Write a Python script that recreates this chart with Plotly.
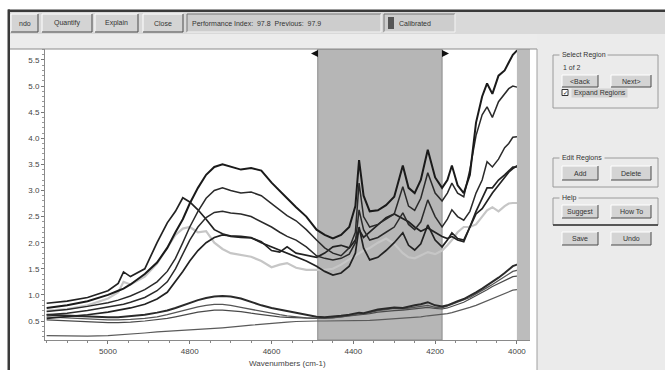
import plotly.graph_objects as go

# ---------------- data ----------------
wavenumbers = [5150, 5100, 5050, 5000, 4975, 4962, 4945, 4910, 4880, 4855, 4835, 4817, 4800, 4780,
               4760, 4740, 4720, 4700, 4675, 4650, 4625, 4600, 4580, 4562, 4540, 4515, 4490, 4470,
               4450, 4430, 4410, 4395, 4386, 4375, 4360, 4340, 4320, 4300, 4279, 4265, 4250, 4235,
               4218, 4200, 4183, 4170, 4159, 4145, 4130, 4115, 4100, 4085, 4073, 4060, 4045, 4030,
               4020, 4010, 4000, 3985, 3970]

spec_p1 = [0.75, 0.8, 0.88, 1.0, 1.08, 1.12, 1.2, 1.4, 1.62, 1.9, 2.2, 2.45, 2.75, 3.05,
           3.3, 3.45, 3.5, 3.45, 3.4, 3.43, 3.38, 3.15, 3.0, 2.85, 2.68, 2.5, 2.25, 2.15,
           2.08, 2.15, 2.3, 2.7, 3.58, 2.9, 2.6, 2.62, 2.72, 2.88, 3.48, 3.05, 2.95, 3.2,
           3.78, 3.25, 3.05, 3.2, 3.48, 3.1, 2.95, 3.3, 4.3, 4.8, 5.05, 4.85, 5.2, 5.3,
           5.45, 5.6, 5.68, 5.7, 5.7]
spec_p2 = [0.68, 0.72, 0.78, 0.85, 0.9, 0.93, 0.98, 1.1, 1.25, 1.45, 1.7, 2.0, 2.3, 2.6,
           2.85, 3.0, 3.05, 3.0, 2.95, 2.97, 2.9, 2.75, 2.62, 2.52, 2.42, 2.25, 2.05, 1.9,
           1.8, 1.75, 1.9, 2.2, 3.14, 2.5, 2.3, 2.35, 2.45, 2.55, 3.07, 2.7, 2.62, 2.85,
           3.34, 2.95, 2.8, 2.95, 3.14, 2.95, 2.88, 3.4, 4.05, 4.45, 4.6, 4.4, 4.7, 4.85,
           4.95, 5.0, 4.98, 4.98, 4.98]
spec_p3 = [0.62, 0.65, 0.7, 0.76, 0.8, 0.82, 0.86, 0.95, 1.08, 1.25, 1.5, 1.78, 2.05, 2.3,
           2.48, 2.58, 2.6, 2.57, 2.55, 2.5, 2.4, 2.3, 2.2, 2.12, 2.05, 1.92, 1.75, 1.7,
           1.67, 1.7, 1.78, 2.0, 2.63, 2.25, 2.05, 2.1, 2.2, 2.3, 2.57, 2.35, 2.25, 2.4,
           2.82, 2.5, 2.3, 2.45, 2.63, 2.5, 2.43, 2.6, 2.95, 3.2, 3.55, 3.45, 3.6, 3.82,
           3.9, 4.02, 4.03, 4.03, 4.03]
spec_p4 = [0.55, 0.58, 0.62, 0.67, 0.7, 0.72, 0.75, 0.82, 0.92, 1.05, 1.25, 1.45, 1.65, 1.85,
           2.0, 2.1, 2.15, 2.13, 2.12, 2.1, 2.0, 1.92, 1.85, 1.8, 1.73, 1.65, 1.55, 1.45,
           1.38, 1.42, 1.55, 1.8, 2.3, 1.9, 1.67, 1.72, 1.85, 2.0, 2.19, 1.95, 1.86, 1.98,
           2.34, 2.05, 1.92, 2.05, 2.19, 2.08, 2.05, 2.3, 2.6, 2.85, 3.05, 3.05, 3.2, 3.3,
           3.38, 3.45, 3.45, 3.45, 3.45]
spec_b = [0.84, 0.88, 0.95, 1.08, 1.22, 1.44, 1.35, 1.5, 2.0, 2.38, 2.6, 2.86, 2.78, 2.63,
          2.45, 2.25, 2.17, 2.12, 2.1, 2.09, 2.02, 1.85, 1.82, 1.92, 1.8, 1.76, 1.72, 1.8,
          1.92, 1.95, 1.9, 2.05, 2.25, 2.1, 2.2, 2.35, 2.48, 2.55, 2.45, 2.4, 2.3, 2.22,
          2.28, 2.2, 2.12, 2.08, 2.12, 2.05, 2.02, 2.3, 2.55, 2.65, 2.8, 2.95, 3.1, 3.25,
          3.35, 3.42, 3.47, 3.47, 3.47]
spec_lg = [0.7, 0.73, 0.8, 0.93, 1.05, 1.25, 1.2, 1.35, 1.6, 1.92, 2.15, 2.27, 2.3, 2.2,
           2.22, 2.0, 1.88, 1.8, 1.77, 1.73, 1.65, 1.53, 1.58, 1.61, 1.52, 1.48, 1.48, 1.48,
           1.5, 1.58, 1.68, 1.75, 1.8, 1.85, 1.9, 2.0, 2.08, 1.98, 1.8, 1.72, 1.7, 1.75,
           1.82, 1.78, 1.85, 1.95, 2.05, 2.2, 2.3, 2.3, 2.35, 2.5, 2.62, 2.68, 2.6, 2.7,
           2.75, 2.76, 2.76, 2.76, 2.76]
spec_l1 = [0.62, 0.6, 0.58, 0.57, 0.57, 0.58, 0.58, 0.62, 0.66, 0.7, 0.75, 0.8, 0.85, 0.9,
           0.94, 0.97, 0.98, 0.97, 0.93, 0.86, 0.8, 0.75, 0.72, 0.7, 0.66, 0.62, 0.58, 0.57,
           0.58, 0.6, 0.62, 0.64, 0.66, 0.65, 0.68, 0.72, 0.74, 0.76, 0.75, 0.78, 0.8, 0.82,
           0.86, 0.8, 0.78, 0.8, 0.84, 0.88, 0.92, 0.98, 1.05, 1.12, 1.18, 1.25, 1.33, 1.42,
           1.48, 1.55, 1.58, 1.6, 1.6]
spec_l2 = [0.58, 0.56, 0.53, 0.52, 0.52, 0.52, 0.53, 0.55, 0.58, 0.62, 0.66, 0.7, 0.74, 0.77,
           0.8, 0.82, 0.82, 0.8, 0.76, 0.72, 0.68, 0.65, 0.62, 0.6, 0.58, 0.56, 0.55, 0.55,
           0.56, 0.58, 0.6, 0.62, 0.64, 0.63, 0.66, 0.7, 0.72, 0.74, 0.73, 0.75, 0.76, 0.78,
           0.8, 0.76, 0.75, 0.78, 0.82, 0.86, 0.9, 0.95, 1.02, 1.08, 1.14, 1.2, 1.27, 1.34,
           1.4, 1.45, 1.47, 1.48, 1.48]
spec_l3 = [0.52, 0.5, 0.48, 0.47, 0.47, 0.47, 0.48, 0.5, 0.52, 0.55, 0.58, 0.61, 0.64, 0.67,
           0.69, 0.71, 0.71, 0.7, 0.68, 0.65, 0.62, 0.6, 0.58, 0.57, 0.56, 0.55, 0.55, 0.55,
           0.56, 0.58, 0.6, 0.61, 0.62, 0.62, 0.64, 0.67, 0.69, 0.7, 0.71, 0.72, 0.73, 0.75,
           0.76, 0.74, 0.73, 0.75, 0.78, 0.82, 0.86, 0.92, 0.98, 1.04, 1.1, 1.16, 1.22, 1.28,
           1.32, 1.35, 1.36, 1.36, 1.36]
spec_l4 = [0.22, 0.21, 0.21, 0.22, 0.23, 0.24, 0.25, 0.27, 0.29, 0.3, 0.31, 0.32, 0.33, 0.34,
           0.35, 0.36, 0.37, 0.38, 0.4, 0.42, 0.44, 0.46, 0.47, 0.48, 0.49, 0.5, 0.5, 0.5,
           0.5, 0.5, 0.5, 0.5, 0.5, 0.5, 0.51, 0.52, 0.53, 0.54, 0.55, 0.56, 0.57, 0.58,
           0.6, 0.61, 0.62, 0.64, 0.66, 0.69, 0.72, 0.76, 0.8, 0.85, 0.89, 0.93, 0.98, 1.03,
           1.06, 1.09, 1.1, 1.1, 1.1]

region_selected = [4487, 4183]
region_excluded = [4000, 3968]
x_range = [5154, 3968]
y_range = [0.136, 5.71]

toolbar_buttons = ["ndo", "Quantify", "Explain", "Close"]
status_text = "Performance Index:  97.8  Previous:  97.9"
calibrated_text = "Calibrated"
x_title = "Wavenumbers (cm-1)"

# ---------------- figure ----------------
fig = go.Figure()

series = [
    (spec_l4, "#5a5a5a", 1.2),
    (spec_l3, "#4a4a4a", 1.2),
    (spec_l2, "#555555", 1.3),
    (spec_l1, "#2a2a2a", 2.0),
    (spec_lg, "#c6c6c6", 2.2),
    (spec_p4, "#222222", 1.7),
    (spec_b, "#222222", 1.7),
    (spec_p3, "#2a2a2a", 1.5),
    (spec_p2, "#2a2a2a", 1.5),
    (spec_p1, "#1a1a1a", 2.0),
]
for vals, col, w in series:
    fig.add_trace(go.Scatter(x=wavenumbers, y=vals, mode="lines",
                             line=dict(color=col, width=w), hoverinfo="skip",
                             showlegend=False))

L, R, T, B = 45, 530, 49, 340
PW, PH = R - L, B - T


def fx(p):
    return (p - L) / PW


def fy(p):
    return (B - p) / PH


shapes = []
annots = []


def rect(x0, y0, x1, y1, fill, line=None, lw=0):
    shapes.append(dict(type="rect", xref="paper", yref="paper",
                       x0=fx(x0), x1=fx(x1), y0=fy(y1), y1=fy(y0),
                       fillcolor=fill, line=dict(width=lw, color=line or fill),
                       layer="above"))


def hline(x0, x1, y, color, w=1):
    shapes.append(dict(type="line", xref="paper", yref="paper",
                       x0=fx(x0), x1=fx(x1), y0=fy(y), y1=fy(y),
                       line=dict(color=color, width=w), layer="above"))


def vline(x, y0, y1, color, w=1):
    shapes.append(dict(type="line", xref="paper", yref="paper",
                       x0=fx(x), x1=fx(x), y0=fy(y0), y1=fy(y1),
                       line=dict(color=color, width=w), layer="above"))


def text(x, y, s, size=7, anchor="center", color="#333", bg=None):
    d = dict(xref="paper", yref="paper", x=fx(x), y=fy(y), text=s,
             showarrow=False, xanchor=anchor, yanchor="middle",
             font=dict(family="Liberation Sans, Arial", size=size, color=color),
             borderpad=0)
    if bg:
        d["bgcolor"] = bg
    annots.append(d)


def button(x0, y0, x1, y1, label, size=7):
    rect(x0, y0, x1, y1, "#d4d4d4")
    hline(x0, x1, y0, "#ffffff")
    vline(x0, y0, y1, "#ffffff")
    hline(x0, x1, y1, "#4a4a4a")
    vline(x1, y0, y1, "#4a4a4a")
    text((x0 + x1) / 2, (y0 + y1) / 2, label, size=size)


def sunken(x0, y0, x1, y1, fill="#cdcdcd"):
    rect(x0, y0, x1, y1, fill)
    hline(x0, x1, y0, "#777")
    vline(x0, y0, y1, "#777")
    hline(x0, x1, y1, "#f4f4f4")
    vline(x1, y0, y1, "#f4f4f4")


def groupbox(x0, y0, x1, y1, title, dark_bottom=False):
    shapes.append(dict(type="rect", xref="paper", yref="paper",
                       x0=fx(x0), x1=fx(x1), y0=fy(y1), y1=fy(y0),
                       line=dict(color="#9a9a9a", width=1), fillcolor="rgba(0,0,0,0)",
                       layer="above"))
    if dark_bottom:
        hline(x0, x1, y1, "#333", 1.5)
    text(x0 + 6, y0, " " + title + " ", size=7, anchor="left", bg="#ebebeb")


# data-referenced regions
shapes.append(dict(type="rect", xref="x", yref="y domain",
                   x0=region_selected[0], x1=region_selected[1], y0=0, y1=1,
                   fillcolor="#b6b6b6", line=dict(color="#8a8a8a", width=1), layer="below"))
shapes.append(dict(type="rect", xref="x", yref="y domain",
                   x0=region_excluded[0], x1=region_excluded[1], y0=0, y1=1,
                   fillcolor="#bcbcbc", line=dict(width=0), layer="above"))

# window chrome
rect(10, 34, 537, 49, "#ececec")
hline(10, 537, 49, "#8c8c8c")
rect(537, 34, 665, 370, "#ebebeb")
vline(537, 49, 370, "#a0a0a0")
rect(10, 12, 665, 34, "#d9d9d9")
rect(8, 9.5, 665, 12, "#3a3a3a")
rect(7.5, 9.5, 10, 370, "#3a3a3a")

# toolbar
btn_pos = [(11, 38), (42, 92), (95, 138), (143, 183)]
for (x0, x1), lab in zip(btn_pos, toolbar_buttons):
    button(x0, 14, x1, 32, lab)
sunken(187, 14, 381, 32)
text(191, 23, status_text, anchor="left")
sunken(384, 14, 455, 32)
rect(388, 17, 394, 29, "#555555")
text(398, 23, calibrated_text, anchor="left")

# selection markers
shapes.append(dict(type="path", xref="paper", yref="paper", layer="above",
                   path="M {} {} L {} {} L {} {} Z".format(fx(318), fy(50), fx(318), fy(57),
                                                          fx(311), fy(53.5)),
                   fillcolor="#111", line=dict(width=0)))
shapes.append(dict(type="path", xref="paper", yref="paper", layer="above",
                   path="M {} {} L {} {} L {} {} Z".format(fx(442), fy(50), fx(442), fy(57),
                                                          fx(449), fy(53.5)),
                   fillcolor="#111", line=dict(width=0)))

# right panel
groupbox(553, 55, 658, 108, "Select Region")
text(562, 67, "1 of 2", anchor="left")
button(562, 75, 598, 87, "&lt;Back")
button(611, 75, 651, 87, "Next&gt;")
rect(562, 89.5, 568, 95.5, "#ffffff", "#333", 1)
text(565, 92.5, "✓", size=6, color="#111")
text(571, 92.5, " Expand Regions ", anchor="left", bg="#d2d2d2")
groupbox(553, 158, 658, 187, "Edit Regions")
button(562, 166, 598, 180, "Add")
button(611, 166, 651, 180, "Delete")
groupbox(553, 198, 658, 225, "Help", dark_bottom=True)
button(562, 205, 598, 218, "Suggest")
button(611, 205, 651, 218, "How To")
button(562, 232, 598, 245, "Save")
button(611, 232, 651, 245, "Undo")

# axis title
text(287, 363, x_title, size=8, color="#444")

fig.update_layout(
    width=665, height=370, autosize=False,
    margin=dict(l=L, r=665 - R, t=T, b=370 - B, pad=0),
    paper_bgcolor="#ffffff", plot_bgcolor="#ffffff",
    shapes=shapes, annotations=annots, showlegend=False,
    xaxis=dict(range=x_range, dtick=200, tick0=4000, tickformat="d",
               ticks="outside", ticklen=3, tickcolor="#777",
               showline=True, linecolor="#8a8a8a", linewidth=1,
               showgrid=False, zeroline=False,
               tickfont=dict(family="Liberation Sans, Arial", size=8, color="#444"),
               minor=dict(dtick=50, tick0=4000, ticks="outside", ticklen=2, tickcolor="#888")),
    yaxis=dict(range=y_range, dtick=0.5, tick0=0.5, tickformat=".1f",
               ticks="outside", ticklen=3, tickcolor="#777",
               showline=True, linecolor="#8a8a8a", linewidth=1,
               showgrid=False, zeroline=False,
               tickfont=dict(family="Liberation Sans, Arial", size=8, color="#444"),
               minor=dict(dtick=0.1, tick0=0.5, ticks="outside", ticklen=2, tickcolor="#999")),
)

fig.write_html("out.html", config={"displayModeBar": False},
               post_script="document.body.style.margin='0';document.body.style.overflow='hidden';")
